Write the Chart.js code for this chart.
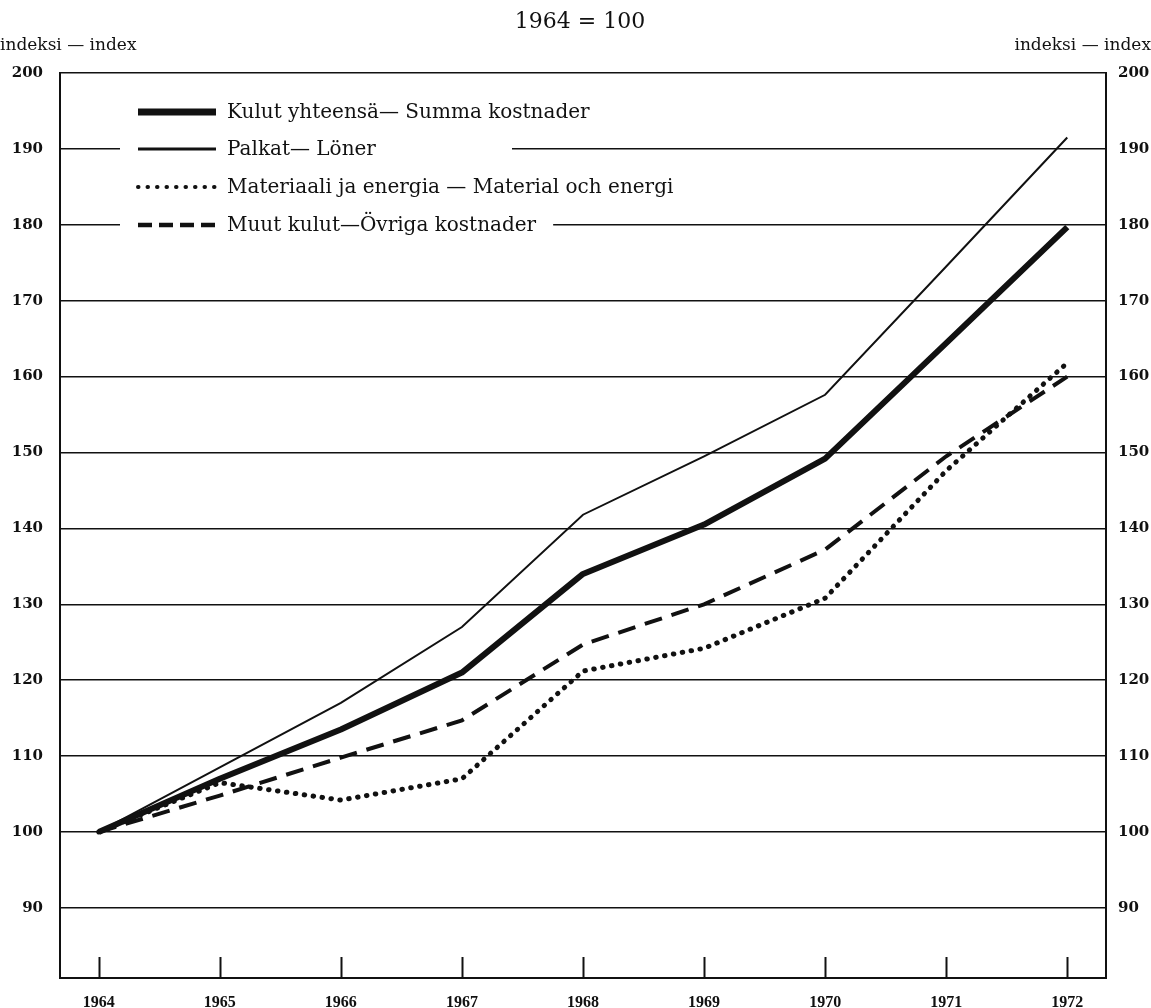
<!DOCTYPE html>
<html>
<head>
<meta charset="utf-8">
<script src="https://cdn.jsdelivr.net/npm/chart.js@4.4.1/dist/chart.umd.min.js"></script>
<style>
  html, body { margin: 0; padding: 0; background: #fff; }
  #wrap { width: 1151px; height: 1008px; }
</style>
</head>
<body>
<div id="wrap"><canvas id="chart" width="1151" height="1008"></canvas></div>
<script>
// ─── Data (index, 1964 = 100) ─────────────────────────────────────────────────
const YEARS = [1964, 1965, 1966, 1967, 1968, 1969, 1970, 1971, 1972];
const KULUT = [100, 107, 113.5, 121, 134, 140.5, 149.2, 164.4, 179.7];
const PALKAT = [100, 108.5, 117, 127, 141.8, 149.5, 157.6, 174.5, 191.5];
const MATERIAALI = [100, 106.5, 104.2, 107, 121.2, 124.2, 130.8, 147.6, 161.8];
const MUUT = [100, 104.8, 109.8, 114.7, 124.7, 130, 137.2, 149.5, 160];
const Y_TICKS = [90, 100, 110, 120, 130, 140, 150, 160, 170, 180, 190, 200];
const SERIES_LABELS = [
    'Kulut yhteensä— Summa kostnader',
    'Palkat— Löner',
    'Materiaali ja energia — Material och energi',
    'Muut kulut—Övriga kostnader',
];

const INK = '#111';
const SERIF = "'DejaVu Serif', 'Liberation Serif', serif";
const NARROW = "'Liberation Serif', 'DejaVu Serif', serif";

const toPoints = (vals) => vals.map((v, i) => ({ x: YEARS[i], y: v }));

// ─── Decorations: year marks, legend, header texts ────────────────────────────
const decor = {
    id: 'decor',
    afterDatasetsDraw(chart) {
        const { ctx, chartArea, scales } = chart;

        // short upward marks at each year
        ctx.save();
        ctx.strokeStyle = INK;
        ctx.lineWidth = 2;
        for (const t of scales.x.ticks) {
            const px = Math.round(scales.x.getPixelForValue(t.value)) + 0.5;
            ctx.beginPath();
            ctx.moveTo(px, chartArea.bottom);
            ctx.lineTo(px, chartArea.bottom - 21);
            ctx.stroke();
        }
        ctx.restore();

        // legend rows drawn over the grid
        const rowsY = [112, 149, 187, 225];
        ctx.save();
        ctx.font = `20px ${SERIF}`;
        ctx.textBaseline = 'middle';
        chart.data.datasets.forEach((ds, i) => {
            const y = rowsY[i];
            const textW = ctx.measureText(ds.label).width;
            const right = Math.max(228 + textW + 16, 512);
            ctx.fillStyle = '#fff';
            ctx.fillRect(120, y - 13, right - 120, 26);

            ctx.strokeStyle = INK;
            ctx.lineWidth = ds.legendWidth;
            ctx.lineCap = ds.borderCapStyle || 'butt';
            ctx.setLineDash(ds.legendDash || []);
            ctx.beginPath();
            ctx.moveTo(138, y);
            ctx.lineTo(216, y);
            ctx.stroke();
            ctx.setLineDash([]);

            ctx.fillStyle = INK;
            ctx.textAlign = 'left';
            ctx.fillText(ds.label, 227, y + 1);
        });
        ctx.restore();
    },
    afterDraw(chart) {
        const { ctx } = chart;
        ctx.save();
        ctx.fillStyle = INK;
        ctx.textBaseline = 'middle';
        ctx.font = `22px ${SERIF}`;
        ctx.textAlign = 'center';
        ctx.fillText('1964 = 100', 580, 22);
        ctx.font = `17px ${SERIF}`;
        ctx.textAlign = 'left';
        ctx.fillText('indeksi — index', 0, 46);
        ctx.textAlign = 'right';
        ctx.fillText('indeksi — index', 1151, 46);
        ctx.restore();
    },
};

const yTickFont = { family: SERIF, size: 15, weight: 'bold' };
const xTickFont = { family: NARROW, size: 16, weight: 'bold' };

new Chart(document.getElementById('chart'), {
    type: 'line',
    data: {
        datasets: [
            {
                label: SERIES_LABELS[0],
                data: toPoints(KULUT),
                borderColor: INK,
                borderWidth: 6,
                legendWidth: 7,
                borderJoinStyle: 'round',
            },
            {
                label: SERIES_LABELS[1],
                data: toPoints(PALKAT),
                borderColor: INK,
                borderWidth: 2,
                legendWidth: 3,
            },
            {
                label: SERIES_LABELS[2],
                data: toPoints(MATERIAALI),
                borderColor: INK,
                borderWidth: 5,
                borderDash: [0.5, 8.5],
                borderCapStyle: 'round',
                legendWidth: 4,
                legendDash: [0.5, 9],
            },
            {
                label: SERIES_LABELS[3],
                data: toPoints(MUUT),
                borderColor: INK,
                borderWidth: 4,
                borderDash: [18, 10],
                legendWidth: 4.5,
                legendDash: [14, 7],
            },
        ]
    },
    options: {
        responsive: false,
        animation: false,
        layout: { padding: { top: 73, left: 0, right: 0, bottom: 0 } },
        elements: { point: { radius: 0 }, line: { tension: 0 } },
        scales: {
            x: {
                type: 'linear',
                min: 1963.68,
                max: 1972.32,
                afterBuildTicks: (s) => { s.ticks = YEARS.map(v => ({ value: v })); },
                afterFit: (s) => { s.height = 30; },
                grid: { display: false, drawTicks: false },
                border: { display: true, color: INK, width: 2 },
                ticks: {
                    color: INK,
                    font: xTickFont,
                    padding: 15,
                    maxRotation: 0,
                    autoSkip: false,
                    callback: (v) => String(v),
                },
            },
            y: {
                position: 'left',
                min: 80.76,
                max: 200,
                afterBuildTicks: (s) => { s.ticks = Y_TICKS.map(v => ({ value: v })); },
                afterFit: (s) => { s.width = 60; },
                grid: { color: INK, lineWidth: 1.5, drawTicks: false },
                border: { display: true, color: INK, width: 2 },
                ticks: { color: INK, font: yTickFont, padding: 17 },
            },
            y2: {
                position: 'right',
                min: 80.76,
                max: 200,
                afterBuildTicks: (s) => { s.ticks = Y_TICKS.map(v => ({ value: v })); },
                afterFit: (s) => { s.width = 45; },
                grid: { drawOnChartArea: false, drawTicks: false },
                border: { display: true, color: INK, width: 2 },
                ticks: { color: INK, font: yTickFont, padding: 12 },
            },
        },
        plugins: {
            legend: { display: false },
            tooltip: { enabled: false },
        },
    },
    plugins: [decor],
});
</script>
</body>
</html>
